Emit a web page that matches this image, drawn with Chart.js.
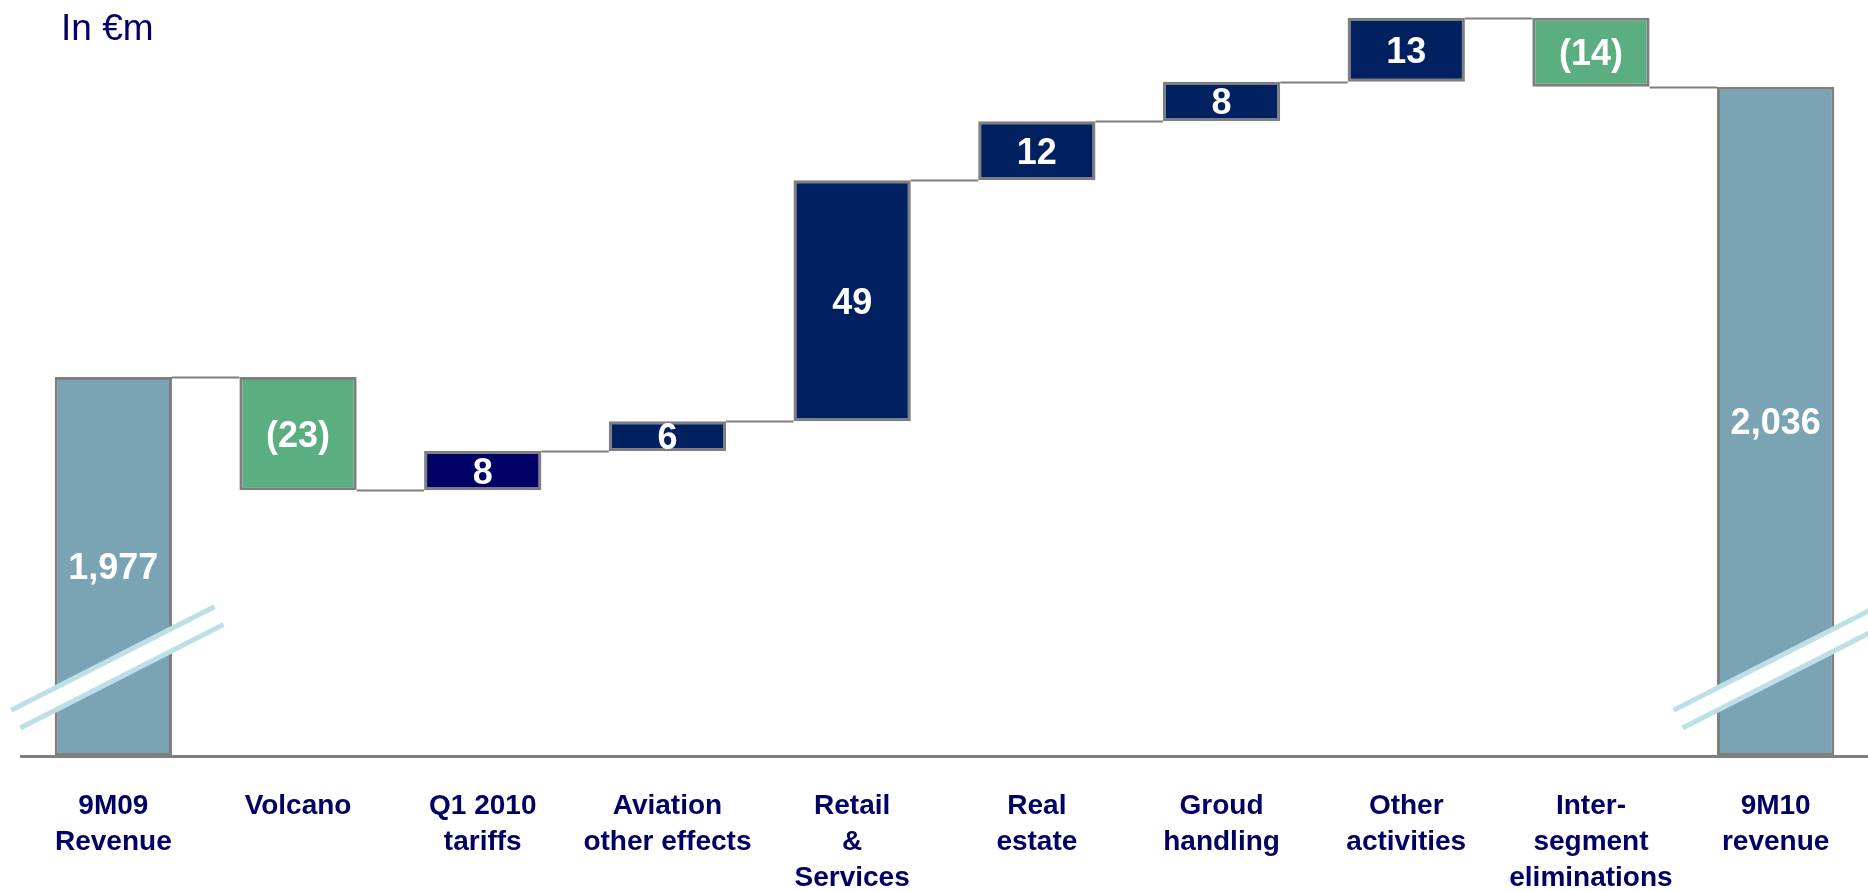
<!DOCTYPE html>
<html>
<head>
<meta charset="utf-8">
<script src="https://cdn.jsdelivr.net/npm/chart.js@4/dist/chart.umd.min.js"></script>
<style>
  html, body { margin: 0; padding: 0; background: #fff; overflow: hidden; }
  #wrap { position: relative; width: 1868px; height: 890px; }
  #unit {
    position: absolute; left: 61px; top: 7px;
    font: 37px "Liberation Sans", Arial, sans-serif; color: #000066;
  }
</style>
</head>
<body>
<div id="wrap">
  <canvas id="bridgeChart" width="1868" height="890"></canvas>
  <div id="unit">In €m</div>
</div>
<script>
// Revenue bridge 9M09 -> 9M10
const categories = [
  ["9M09", "Revenue"],
  ["Volcano"],
  ["Q1 2010", "tariffs"],
  ["Aviation", "other effects"],
  ["Retail", "&", "Services"],
  ["Real", "estate"],
  ["Groud", "handling"],
  ["Other", "activities"],
  ["Inter-", "segment", "eliminations"],
  ["9M10", "revenue"],
];
const startValue = 1977;
const deltas = [-23, 8, 6, 49, 12, 8, 13, -14];
const endValue = 2036;
const valueLabels = ["1,977", "(23)", "8", "6", "49", "12", "8", "13", "(14)", "2,036"];

// axis is broken, bars start from here
const axisMin = 1900;
const axisMax = 2052;
const breakValue = 1918;

const totalColor = "#7aa3b4";
const upColor = "#002060";
const downColor = "#5bae80";
const edgeColor = "#7f7f7f";

// build floating bars
const ranges = [[axisMin, startValue]];
const colors = [totalColor];
let running = startValue;
deltas.forEach((d, i) => {
  ranges.push([running, running + d]);
  colors.push(d < 0 ? downColor : i === 1 ? "#000066" : upColor);
  running += d;
});
ranges.push([axisMin, endValue]);
colors.push(totalColor);

// running totals after each bar, for the connector lines
const levels = [startValue];
let lv = startValue;
deltas.forEach((d) => {
  lv += d;
  levels.push(lv);
});

const connectorPlugin = {
  id: "connectors",
  beforeDatasetsDraw(chart) {
    const ctx = chart.ctx;
    const meta = chart.getDatasetMeta(0);
    const y = chart.scales.y;
    ctx.save();
    ctx.strokeStyle = edgeColor;
    ctx.lineWidth = 2;
    for (let i = 0; i < levels.length; i++) {
      const a = meta.data[i];
      const b = meta.data[i + 1];
      const py = Math.round(y.getPixelForValue(levels[i])) + 0.5;
      ctx.beginPath();
      ctx.moveTo(a.x + a.width / 2, py);
      ctx.lineTo(b.x - b.width / 2, py);
      ctx.stroke();
    }
    ctx.restore();
  },
};

const labelPlugin = {
  id: "barLabels",
  afterDatasetsDraw(chart) {
    const ctx = chart.ctx;
    const meta = chart.getDatasetMeta(0);
    const y = chart.scales.y;

    // break marks on the two total bars
    [0, meta.data.length - 1].forEach((i) => {
      const bar = meta.data[i];
      const cx = bar.x + 4;
      const cy = y.getPixelForValue(breakValue);
      ctx.save();
      ctx.translate(cx, cy);
      ctx.rotate((-27 * Math.PI) / 180);
      ctx.fillStyle = "#ffffff";
      ctx.fillRect(-114, -10, 228, 20);
      ctx.strokeStyle = "#bde0e6";
      ctx.lineWidth = 5;
      ctx.beginPath();
      ctx.moveTo(-114, -10);
      ctx.lineTo(114, -10);
      ctx.moveTo(-114, 10);
      ctx.lineTo(114, 10);
      ctx.stroke();
      ctx.restore();
    });

    ctx.save();
    ctx.fillStyle = "#ffffff";
    ctx.font = 'bold 36px "Liberation Sans", Arial, sans-serif';
    ctx.textAlign = "center";
    ctx.textBaseline = "middle";
    meta.data.forEach((bar, i) => {
      const r = ranges[i];
      const mid = y.getPixelForValue((r[0] + r[1]) / 2);
      ctx.fillText(valueLabels[i], bar.x, mid + 3);
    });
    ctx.restore();
  },
};

const ctx = document.getElementById("bridgeChart").getContext("2d");
const bridgeChart = new Chart(ctx, {
  type: "bar",
  data: {
    labels: categories,
    datasets: [
      {
        data: ranges,
        backgroundColor: colors,
        borderColor: edgeColor,
        borderWidth: 3,
        borderSkipped: false,
        categoryPercentage: 1,
        barPercentage: 0.635,
      },
    ],
  },
  options: {
    responsive: false,
    animation: false,
    layout: { padding: { top: 8, left: 21, right: 0, bottom: 0 } },
    plugins: {
      legend: { display: false },
      tooltip: { enabled: false },
    },
    scales: {
      x: {
        grid: { display: false },
        border: { display: true, color: edgeColor, width: 3 },
        ticks: {
          color: "#000066",
          padding: 24,
          maxRotation: 0,
          autoSkip: false,
          font: { family: '"Liberation Sans", Arial, sans-serif', size: 28, weight: "bold", lineHeight: 1.29 },
        },
        afterFit(scale) {
          scale.height = 134;
        },
      },
      y: {
        display: false,
        min: axisMin,
        max: axisMax,
      },
    },
  },
  plugins: [connectorPlugin, labelPlugin],
});
</script>
</body>
</html>
